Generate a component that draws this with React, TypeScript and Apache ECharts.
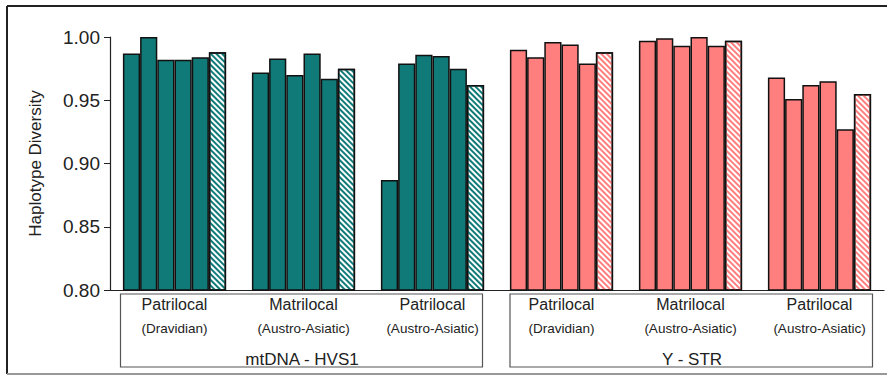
import React, { useEffect, useRef } from "react";
import * as echarts from "echarts";

// Category labels
const systems = ["Patrilocal", "Matrilocal", "Patrilocal", "Patrilocal", "Matrilocal", "Patrilocal"];
const families = ["(Dravidian)", "(Austro-Asiatic)", "(Austro-Asiatic)", "(Dravidian)", "(Austro-Asiatic)", "(Austro-Asiatic)"];
const markers = ["mtDNA - HVS1", "Y - STR"];

// Haplotype diversity per group (six populations, last one hatched)
const mtPatriDrav = [0.987, 1.0, 0.982, 0.982, 0.984, 0.988];
const mtMatriAA = [0.972, 0.983, 0.970, 0.987, 0.967, 0.975];
const mtPatriAA = [0.887, 0.979, 0.986, 0.985, 0.975, 0.962];
const yPatriDrav = [0.990, 0.984, 0.996, 0.994, 0.979, 0.988];
const yMatriAA = [0.997, 0.999, 0.993, 1.0, 0.993, 0.997];
const yPatriAA = [0.968, 0.951, 0.962, 0.965, 0.927, 0.955];

const yTicks = [0.8, 0.85, 0.9, 0.95, 1.0];

const groups = [mtPatriDrav, mtMatriAA, mtPatriAA, yPatriDrav, yMatriAA, yPatriAA];
const TEAL = "#0f7a77";
const PINK = "#ff7f7f";

export default function App() {
  const ref = useRef<HTMLDivElement>(null);
  useEffect(() => {
    if (!ref.current) return;
    const chart = echarts.init(ref.current, null, { renderer: "svg" });
    const nBars = groups[0].length;
    const series: any[] = [];
    for (let i = 0; i < nBars; i++) {
      const hatched = i === nBars - 1;
      series.push({
        type: "bar",
        barGap: "0%",
        barCategoryGap: "20%",
        data: groups.map((g, gi) => {
          const c = gi < 3 ? TEAL : PINK;
          return {
            value: g[i],
            itemStyle: hatched
              ? {
                  color: "#ffffff",
                  borderColor: "#111",
                  borderWidth: 1.5,
                  decal: {
                    symbol: "rect",
                    symbolSize: 1,
                    dashArrayX: [[1, 0]],
                    dashArrayY: [2, 2],
                    rotation: Math.PI / 4,
                    color: c,
                  },
                }
              : { color: c, borderColor: "#111", borderWidth: 1.5 },
          };
        }),
      });
    }
    const font = "'Liberation Sans', Arial, sans-serif";
    chart.setOption({
      animation: false,
      grid: { left: 110, top: 37, width: 774, height: 253 },
      xAxis: {
        type: "category",
        data: systems.map((s, i) => `{a|${s}}\n{b|${families[i]}}`),
        axisLine: { lineStyle: { color: "#222", width: 1.2 } },
        axisTick: { show: false },
        axisLabel: {
          margin: 3,
          interval: 0,
          rich: {
            a: { fontSize: 16, lineHeight: 22, color: "#222", fontFamily: font },
            b: { fontSize: 13.5, lineHeight: 26, color: "#222", fontFamily: font },
          },
        },
      },
      yAxis: {
        type: "value",
        min: yTicks[0],
        max: yTicks[yTicks.length - 1],
        interval: 0.05,
        name: "Haplotype Diversity",
        nameLocation: "middle",
        nameGap: 66,
        nameTextStyle: { fontSize: 17, color: "#222", fontFamily: font },
        axisLine: { show: true, lineStyle: { color: "#222", width: 1.2 } },
        axisTick: { show: true, length: 6, lineStyle: { color: "#222" } },
        splitLine: { show: false },
        axisLabel: {
          fontSize: 19,
          color: "#222",
          fontFamily: font,
          margin: 10,
          formatter: (v: number) => v.toFixed(2),
        },
      },
      series,
      graphic: [
        { type: "line", shape: { x1: 7, y1: 6, x2: 887, y2: 6 }, style: { stroke: "#222", lineWidth: 2 } },
        { type: "line", shape: { x1: 7, y1: 6, x2: 7, y2: 374 }, style: { stroke: "#222", lineWidth: 2 } },
        { type: "line", shape: { x1: 7, y1: 374, x2: 887, y2: 374 }, style: { stroke: "#999", lineWidth: 2 } },
        { type: "rect", shape: { x: 120.5, y: 294, width: 362, height: 73 }, style: { fill: "none", stroke: "#555", lineWidth: 1.2 } },
        { type: "rect", shape: { x: 510, y: 294, width: 362.5, height: 73 }, style: { fill: "none", stroke: "#555", lineWidth: 1.2 } },
        { type: "text", x: 302, y: 359, style: { text: markers[0], fontSize: 17, fill: "#222", fontFamily: font, align: "center", verticalAlign: "middle" } },
        { type: "text", x: 692, y: 359, style: { text: markers[1], fontSize: 17, fill: "#222", fontFamily: font, align: "center", verticalAlign: "middle" } },
      ],
    });
    return () => chart.dispose();
  }, []);
  return <div ref={ref} style={{ position: "fixed", left: 0, top: 0, width: 887, height: 376, background: "#fff" }} />;
}
